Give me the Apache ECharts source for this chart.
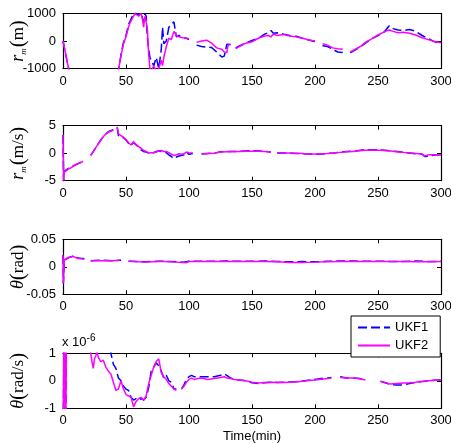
<!DOCTYPE html>
<html><head><meta charset="utf-8">
<script src="https://cdn.jsdelivr.net/npm/echarts@6/dist/echarts.min.js"></script>
<style>html,body{margin:0;padding:0;background:#fff}#c{width:451px;height:444px}</style>
</head><body><div id="c"></div>
<script>
// ---- data ----
const seriesNames = ['UKF1', 'UKF2'];
const xTickLabels = ['0', '50', '100', '150', '200', '250', '300'];

const time1 = [0,2,4,6,20,44,45,46,48,50,
52,53,54,56,57,58,60,62,63,64,
65,66,67,68,69,70,72,74,76,78,
79,80,82,84,86,88,90,92,95,98,
100,103,106,110,114,118,122,126,128,130,
131,133,135,137,140,145,150,155,160,163,
165,167,170,175,180,185,190,195,200,203,
206,210,214,218,222,225,228,232,236,240,
245,250,255,257,259,262,266,270,275,280,
285,290,295,300];
const rmUKF2 = [0,-450,-900,-1300,-3000,-1050,-800,-550,-100,150,
500,650,700,900,1000,950,900,1000,800,500,
900,700,400,-500,-1000,-1100,-900,-1100,-1000,-700,
-900,-600,-200,100,50,350,200,150,120,100,
80,null,-50,0,30,-80,-250,-300,-400,-420,
-150,-120,null,-280,-200,-80,-30,100,180,200,
150,250,200,240,180,150,100,40,0,null,
-100,-150,-250,-280,-300,null,-400,-300,-200,-50,
80,220,330,370,400,350,300,320,280,220,
120,50,-20,-60];
const rmUKF1 = [0,-450,-900,-1300,-3000,-1050,-800,-500,-50,200,
600,700,800,1000,1100,1000,950,1000,1050,700,
1000,900,100,-300,-600,-700,-900,-600,-1000,-300,
500,-100,0,500,600,700,150,200,120,100,
50,null,-150,-200,-220,-240,-400,-580,-550,-120,
-100,-130,null,-250,-180,-80,20,100,250,300,
380,280,300,250,200,170,100,40,-20,null,
-170,-200,-300,-400,-420,null,-430,-320,-220,-80,
80,200,330,450,550,450,400,380,420,350,
200,80,-30,-100];

const time2 = [0,0.5,1,2,4,6,8,10,12,14,
16,17,19,22,24,26,28,30,32,34,
36,38,40,41,43,44,46,48,50,52,
54,56,58,60,62,64,66,68,70,72,
74,76,78,80,82,84,86,88,90,92,
94,96,98,100,103,106,110,115,120,125,
130,135,140,145,150,155,160,165,167,170,
175,180,185,190,195,200,205,210,215,220,
225,230,235,240,245,250,255,260,265,270,
275,280,285,287,290,295,300];
const rvUKF2 = [3.3,-5,-3.5,-3.2,-2.9,-2.7,-2.4,-2.1,-1.9,-1.7,
-1.5,null,null,-0.4,0.3,1.0,1.7,2.4,3.0,3.5,
3.8,4.0,4.2,null,4.8,3.5,3.2,2.9,2.5,1.9,
1.5,2.1,1.6,1.2,0.9,0.5,0.3,0.05,0.1,0.1,
0.2,0.4,0.5,0.3,0.3,0.1,-0.2,-0.4,-0.3,-0.1,
-0.2,-0.1,0.2,0.1,0.05,null,-0.1,-0.05,0,0.2,
0.25,0.3,0.3,0.35,0.35,0.35,0.3,0.2,null,0.05,
0.05,0.05,0,-0.05,-0.15,-0.15,-0.1,-0.05,0.05,0.15,
0.25,0.3,0.45,0.55,0.6,0.55,0.5,0.4,0.25,0.15,
0.05,-0.05,-0.15,-0.5,-0.3,-0.3,-0.3];
const rvUKF1 = [3.3,-5,-3.3,-3.0,-2.8,-2.6,-2.3,-2.1,-1.9,-1.7,
-1.5,-1.4,null,-0.4,0.3,1.0,1.7,2.4,3.0,3.5,
3.9,4.1,4.3,null,4.7,3.2,3.0,2.8,2.4,1.8,
1.4,2.0,1.5,1.1,0.6,0.3,0.2,0.05,0.1,0.1,
0.3,0.4,0.3,0.2,0.1,-0.3,-0.6,-1.0,-0.7,-0.5,
-0.4,-0.3,0.1,-0.2,-0.05,null,-0.15,-0.05,0,0.25,
0.3,0.3,0.35,0.4,0.45,0.4,0.35,0.2,null,0.05,
0.05,0.0,-0.05,-0.1,-0.15,-0.2,-0.15,-0.05,0.05,0.2,
0.3,0.35,0.5,0.65,0.65,0.6,0.55,0.45,0.3,0.15,
0.05,-0.1,-0.2,-0.6,-0.55,-0.35,-0.3];

const time3 = [0,0.3,1,2,4,6,8,10,12,14,
16,17,19,22,25,30,35,40,45,46,
50,52,55,60,65,70,75,80,85,90,
95,98,100,105,110,120,130,140,150,160,
170,180,190,200,210,220,230,240,250,260,
270,280,290,300];
const thUKF2 = [0.021,-0.03,0.012,0.014,0.017,0.018,0.019,0.017,0.015,0.015,
0.014,null,null,0.011,0.011,0.011,0.011,0.011,0.012,null,
null,0.010,0.0095,0.009,0.0085,0.009,0.0095,0.0095,0.009,0.0085,
0.008,0.0075,0.0095,0.0095,0.0095,0.0095,0.0098,0.0095,0.0095,0.0098,
0.009,0.008,0.008,0.0085,0.0092,0.0095,0.0097,0.0098,0.0098,0.0097,
0.0095,0.0092,0.009,0.0095];
const thUKF1 = [0.021,-0.03,0.012,0.014,0.016,0.018,0.019,0.017,0.016,0.015,
0.015,0.014,null,0.011,0.0115,0.012,0.0115,0.011,0.012,0.012,
null,0.010,0.010,0.0095,0.009,0.0095,0.010,0.010,0.0095,0.009,
0.0085,0.009,0.0105,0.010,0.010,0.010,0.0105,0.010,0.010,0.0105,
0.0098,0.009,0.0095,0.009,0.010,0.0105,0.0105,0.010,0.010,0.0098,
0.0098,0.0105,0.0095,0.010];

// theta-dot, in units of 1e-6 rad/s
const time4 = [0,1,2,3,21,22,23,24,25,26,
27,28,30,32,34,36,38,40,42,44,
46,48,50,52,54,56,58,60,62,64,
66,68,70,72,74,76,78,80,82,84,
86,88,90,92,94,96,98,100,102,104,
107,110,115,120,125,128,130,133,136,140,
145,150,155,160,165,170,175,180,185,190,
195,200,205,210,213,216,220,225,230,235,
240,243,248,252,255,260,265,270,275,280,
285,290,295,300];
const tdUKF2 = [-3,3,-3,3,1.3,1.0,0.7,0.45,0.8,0.9,
1.05,0.85,0.7,0.75,0.5,0.35,0.25,-0.05,-0.35,-0.3,
0.0,-0.3,-0.5,-0.55,-0.6,-0.95,-0.75,-0.65,-0.6,-0.7,
-0.55,-0.1,0.2,0.5,0.7,0.8,0.3,0.15,0.05,-0.1,
-0.2,-0.3,-0.35,null,-0.3,-0.2,-0.05,0.05,0.1,0.05,
0.08,0.1,0.05,0.08,0.12,0.15,0.1,0.08,0.05,0.03,
0.0,-0.05,-0.08,-0.06,-0.05,-0.06,-0.06,-0.05,-0.04,-0.02,
0.01,0.03,0.06,0.08,0.1,null,0.12,0.1,0.1,0.08,
0.03,null,null,-0.02,-0.05,-0.12,-0.1,-0.08,-0.07,-0.05,
-0.02,0.0,0.02,0.03];
const tdUKF1 = [-3,3,-3,3,3,3,3,3,3,3,
3,3,3,3,3,2,1.0,0.6,0.45,0.1,
0.0,-0.2,-0.3,-0.35,-0.6,-0.7,-0.65,-0.7,-0.65,-0.7,
-0.6,-0.25,0.35,0.5,0.65,0.55,0.35,0.1,0.2,0.0,
-0.05,-0.3,-0.3,null,-0.3,-0.15,0.05,0.15,0.2,0.15,
0.15,0.15,0.15,0.15,0.2,0.25,0.2,0.1,0.05,0.03,
0.0,-0.07,-0.1,-0.07,-0.05,-0.06,-0.05,-0.04,-0.03,-0.01,
0.02,0.05,0.08,0.1,0.12,null,0.15,0.1,0.1,0.08,
0.03,null,null,-0.02,-0.06,-0.14,-0.15,-0.15,-0.1,-0.06,
-0.03,0.0,0.02,0.03];

const yTicks1 = [-1000, 0, 1000];
const yTicks2 = [-5, 0, 5];
const yTicks3 = [-0.05, 0, 0.05];
const yTicks4 = [-1, 0, 1];

// ---- chart ----
const pair = (t, v) => t.map((x, i) => [x, v[i] === null ? '-' : v[i]]);
const serif = 'Liberation Serif, DejaVu Serif, serif';
const sans = 'Liberation Sans, Arial, sans-serif';
const nameRich = {
  v: {fontFamily: serif, fontStyle: 'italic', fontSize: 18, color: '#000'},
  s: {fontFamily: serif, fontStyle: 'italic', fontSize: 9, color: '#000', padding: [10, 1, 0, 0]},
  p: {fontFamily: serif, fontSize: 21, color: '#000'},
  u: {fontFamily: serif, fontSize: 17, color: '#000'}
};
const panels = [
  {t: time1, a: rmUKF1, b: rmUKF2, ticks: yTicks1, name: '{v|r}{s|m}{p|(}{u|m}{p|)}'},
  {t: time2, a: rvUKF1, b: rvUKF2, ticks: yTicks2, name: '{v|r}{s|m}{p|(}{u|m/s}{p|)}'},
  {t: time3, a: thUKF1, b: thUKF2, ticks: yTicks3, name: '{v|θ}{p|(}{u|rad}{p|)}'},
  {t: time4, a: tdUKF1, b: tdUKF2, ticks: yTicks4, name: '{v|θ}{p|(}{u|rad/s}{p|)}'}
];
const tops = [13.5, 125.7, 239.3, 353.3];
const grid = [], xAxis = [], yAxis = [], series = [];
const lineAxis = {show: true, onZero: false, lineStyle: {color: '#000', width: 1.2}};
const tick = {show: true, inside: true, length: 4, lineStyle: {color: '#000', width: 1}};
panels.forEach((p, i) => {
  grid.push({left: 63, right: 10, top: tops[i], height: 55, containLabel: false, outerBoundsMode: 'none'});
  const ymin = p.ticks[0], ymax = p.ticks[p.ticks.length - 1], yint = p.ticks[1] - p.ticks[0];
  xAxis.push({
    gridIndex: i, type: 'value', min: 0, max: 300, interval: 50, position: 'bottom',
    axisLine: lineAxis, axisTick: tick, splitLine: {show: false},
    axisLabel: {color: '#000', fontSize: 13, fontFamily: sans, margin: 6,
      formatter: v => xTickLabels[Math.round(v / 50)]},
    name: i === 3 ? 'Time(min)' : '', nameLocation: 'middle', nameGap: 22,
    nameTextStyle: {color: '#000', fontSize: 13, fontFamily: sans}
  });
  xAxis.push({
    gridIndex: i, type: 'value', min: 0, max: 300, interval: 50, position: 'top',
    axisLine: lineAxis, axisTick: tick, splitLine: {show: false}, axisLabel: {show: false}
  });
  yAxis.push({
    gridIndex: i, type: 'value', min: ymin, max: ymax, interval: yint, position: 'left',
    axisLine: lineAxis, axisTick: tick, splitLine: {show: false},
    axisLabel: {color: '#000', fontSize: 13, fontFamily: sans, margin: 7,
      formatter: v => { const k = p.ticks.findIndex(x => Math.abs(x - v) < yint * 1e-6); return k >= 0 ? String(p.ticks[k]) : ''; }},
    name: p.name, nameLocation: 'middle', nameRotate: 90, nameGap: 34, nameMoveOverlap: false,
    nameTextStyle: {rich: nameRich}
  });
  yAxis.push({
    gridIndex: i, type: 'value', min: ymin, max: ymax, interval: yint, position: 'right',
    axisLine: lineAxis, axisTick: tick, splitLine: {show: false}, axisLabel: {show: false}
  });
  series.push({
    name: seriesNames[0], type: 'line', xAxisIndex: 2 * i, yAxisIndex: 2 * i,
    data: pair(p.t, p.a), symbol: 'none', showSymbol: false, clip: true, connectNulls: false,
    lineStyle: {color: '#0000ff', width: 1.5, type: [9, 4]}, itemStyle: {color: '#0000ff'}, z: 2
  });
  series.push({
    name: seriesNames[1], type: 'line', xAxisIndex: 2 * i, yAxisIndex: 2 * i,
    data: pair(p.t, p.b), symbol: 'none', showSymbol: false, clip: true, connectNulls: false,
    lineStyle: {color: '#ff00ff', width: 1.5, type: 'solid'}, itemStyle: {color: '#ff00ff'}, z: 3
  });
});

const chart = echarts.init(document.getElementById('c'));
chart.setOption({
  animation: false,
  backgroundColor: '#fff',
  grid, xAxis, yAxis, series,
  title: {
    text: '{a|x 10}{b|-6}', left: 62, top: 333, padding: 0,
    textStyle: {fontWeight: 'normal', rich: {
      a: {fontFamily: sans, fontSize: 13, fontWeight: 'normal', color: '#000', lineHeight: 16, verticalAlign: 'bottom'},
      b: {fontFamily: sans, fontSize: 10, fontWeight: 'normal', color: '#000', lineHeight: 16, verticalAlign: 'top'}
    }}
  },
  legend: {
    data: seriesNames, orient: 'vertical', left: 351, top: 316,
    itemWidth: 32, itemHeight: 10, itemGap: 5, padding: [5, 12, 5, 6],
    itemStyle: {opacity: 0},
    borderColor: '#000', borderWidth: 1, backgroundColor: '#fff', borderRadius: 0,
    textStyle: {fontFamily: sans, fontSize: 13, color: '#000'}, z: 10, selectedMode: false
  }
});
</script></body></html>
